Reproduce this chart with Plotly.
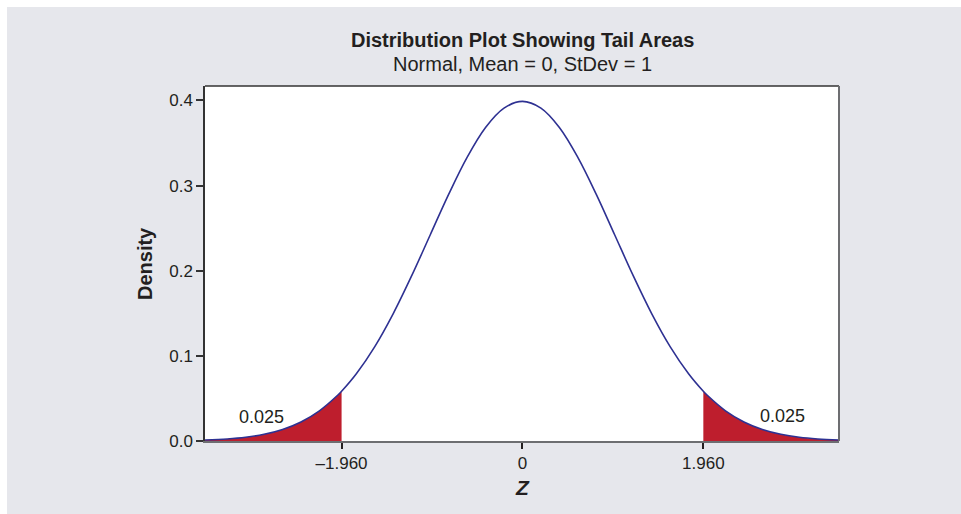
import plotly.graph_objects as go

# Density curve values (Normal, mean 0, sd 1)
z_vals = [-3.44, -3.2, -3.0, -2.8, -2.6, -2.4, -2.2, -2.0, -1.96, -1.8, -1.6, -1.4, -1.2, -1.0,
          -0.8, -0.6, -0.4, -0.2, 0.0, 0.2, 0.4, 0.6, 0.8, 1.0, 1.2, 1.4, 1.6, 1.8, 1.96,
          2.0, 2.2, 2.4, 2.6, 2.8, 3.0, 3.2, 3.43]
density = [0.0011, 0.0024, 0.0044, 0.0079, 0.0136, 0.0224, 0.0355, 0.0540, 0.0584, 0.0790,
           0.1109, 0.1497, 0.1942, 0.2420, 0.2897, 0.3332, 0.3683, 0.3910, 0.3989, 0.3910,
           0.3683, 0.3332, 0.2897, 0.2420, 0.1942, 0.1497, 0.1109, 0.0790, 0.0584, 0.0540,
           0.0355, 0.0224, 0.0136, 0.0079, 0.0044, 0.0024, 0.0011]

crit = 1.96
tail_area = "0.025"
x_tickvals = [-1.96, 0, 1.96]
x_ticktext = ["\u20131.960", "0", "1.960"]
y_tickvals = [0.0, 0.1, 0.2, 0.3, 0.4]

left_x = [z for z in z_vals if z <= -crit]
left_y = [d for z, d in zip(z_vals, density) if z <= -crit]
right_x = [z for z in z_vals if z >= crit]
right_y = [d for z, d in zip(z_vals, density) if z >= crit]

RED = "#be1e2d"
BLUE = "#2e3192"
TXT = "#231f20"
GREY = "#e6e7ec"
FONT = "Liberation Sans, Arial, sans-serif"

fig = go.Figure()
for xs, ys in [(left_x, left_y), (right_x, right_y)]:
    fig.add_trace(go.Scatter(x=xs, y=ys, mode="lines", fill="tozeroy",
                             fillcolor=RED, line=dict(width=0, shape="spline", color=RED),
                             hoverinfo="skip", showlegend=False))
fig.add_trace(go.Scatter(x=z_vals, y=density, mode="lines",
                         line=dict(color=BLUE, width=1.6, shape="spline"),
                         showlegend=False))

W, H = 961, 514
L, R, T, B = 205, 122, 86, 73
pw, ph = W - L - R, H - T - B

def px(xp):
    return (xp - L) / pw

def py(yp):
    return (H - B - yp) / ph

fig.update_layout(
    width=W, height=H,
    margin=dict(l=L, r=R, t=T, b=B, pad=0),
    paper_bgcolor=GREY, plot_bgcolor="white",
    font=dict(family=FONT, size=17, color=TXT),
    xaxis=dict(range=[-3.44, 3.43], tickvals=x_tickvals, ticktext=x_ticktext,
               showgrid=False, zeroline=False, showline=True, linecolor="#6d6e71",
               linewidth=2, ticks="outside", ticklen=6, tickwidth=1.5, tickcolor=TXT,
               tickfont=dict(size=17)),
    yaxis=dict(range=[0, 0.417], tickvals=y_tickvals, tickformat=".1f",
               showgrid=False, zeroline=False, showline=True, linecolor="#333333",
               linewidth=1.5, ticks="outside", ticklen=7, tickwidth=1.5, tickcolor="#333333",
               tickfont=dict(size=17)),
    shapes=[
        dict(type="rect", xref="paper", yref="paper", x0=px(0), x1=px(W), y0=py(0), y1=py(7),
             fillcolor="white", line=dict(width=0), layer="below"),
        dict(type="rect", xref="paper", yref="paper", x0=px(0), x1=px(7), y0=py(0), y1=py(H),
             fillcolor="white", line=dict(width=0), layer="below"),
        dict(type="line", xref="paper", yref="paper", x0=0, x1=1, y0=1, y1=1,
             line=dict(color="#333333", width=1.5)),
        dict(type="line", xref="paper", yref="paper", x0=1, x1=1, y0=0, y1=1,
             line=dict(color="#6d6e71", width=2)),
    ],
    annotations=[
        dict(text="<b>Distribution Plot Showing Tail Areas</b>", xref="paper", yref="paper",
             x=0.5, y=py(40), showarrow=False, font=dict(size=20), xanchor="center", yanchor="middle"),
        dict(text="Normal, Mean = 0, StDev = 1", xref="paper", yref="paper",
             x=0.5, y=py(64), showarrow=False, font=dict(size=20), xanchor="center", yanchor="middle"),
        dict(text="<b>Density</b>", xref="paper", yref="paper", x=px(145), y=py(264),
             textangle=-90, showarrow=False, font=dict(size=20), xanchor="center", yanchor="middle"),
        dict(text="<b><i>Z</i></b>", xref="x", yref="paper", x=0, y=py(487),
             showarrow=False, font=dict(size=21), xanchor="center", yanchor="middle"),
        dict(text=tail_area, xref="x", yref="y", x=-2.83, y=0.0282, showarrow=False,
             font=dict(size=18), xanchor="center", yanchor="middle"),
        dict(text=tail_area, xref="x", yref="y", x=2.82, y=0.0295, showarrow=False,
             font=dict(size=18), xanchor="center", yanchor="middle"),
    ],
)

fig.write_html("out.html")
